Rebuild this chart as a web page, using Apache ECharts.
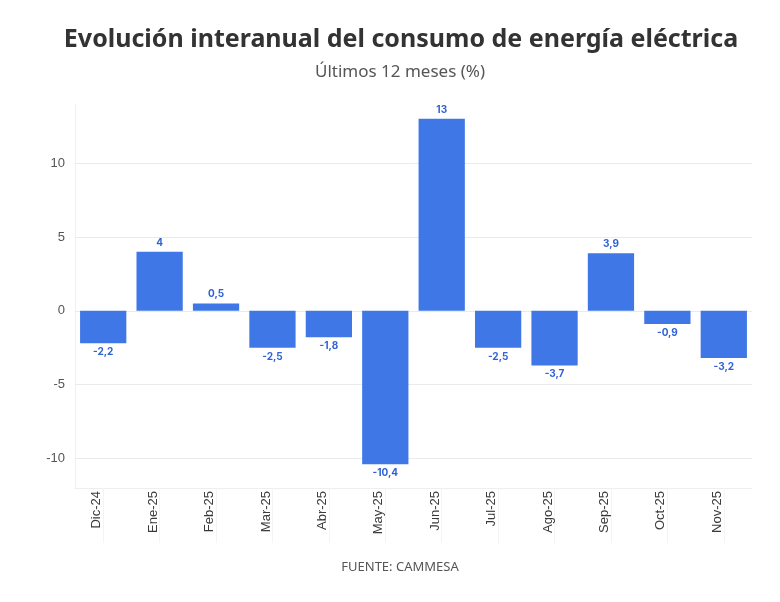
<!DOCTYPE html>
<html>
<head>
<meta charset="utf-8">
<script src="https://cdn.jsdelivr.net/npm/echarts@6/dist/echarts.min.js"></script>
<style>
  html,body{margin:0;padding:0;background:#fff;}
  #chart{width:780px;height:602px;}
</style>
</head>
<body>
<div id="chart"></div>
<script>
// datos
const meses = ['Dic-24','Ene-25','Feb-25','Mar-25','Abr-25','May-25','Jun-25','Jul-25','Ago-25','Sep-25','Oct-25','Nov-25'];
const variacion = [-2.2, 4, 0.5, -2.5, -1.8, -10.4, 13, -2.5, -3.7, 3.9, -0.9, -3.2];
const ticksY = [10, 5, 0, -5, -10];

const chart = echarts.init(document.getElementById('chart'));

const option = {
    backgroundColor: '#fff',
    title: [{
        text: 'Evolución interanual del consumo de energía eléctrica',
        left: 396,
        textAlign: 'center',
        top: 22,
        textStyle: {fontFamily: 'Noto Sans', fontSize: 25, fontWeight: 'bold', color: '#333'}
    }, {
        text: 'Últimos 12 meses (%)',
        left: 395,
        textAlign: 'center',
        top: 59,
        textStyle: {fontFamily: 'Noto Sans', fontSize: 17, fontWeight: 'normal', color: '#555'}
    }, {
        text: 'FUENTE: CAMMESA',
        left: 395,
        textAlign: 'center',
        top: 556,
        textStyle: {fontFamily: 'Noto Sans', fontSize: 13, fontWeight: 'normal', color: '#555'}
    }],
    grid: {left: 75, right: 28, top: 104, bottom: 114},
    xAxis: {
        type: 'category',
        data: meses,
        axisLine: {onZero: false, lineStyle: {color: '#eeeeee'}},
        axisTick: {show: true, alignWithLabel: true, length: 55, lineStyle: {color: '#f4f4f4'}},
        axisLabel: {
            rotate: 90,
            fontFamily: 'Liberation Sans',
            fontSize: 13,
            color: '#3a3a3a',
            margin: 3,
            verticalAlign: 'bottom'
        },
        splitLine: {show: false}
    },
    yAxis: {
        type: 'value',
        min: -12,
        max: 14,
        interval: 1,
        axisLine: {show: true, lineStyle: {color: '#f0f0f0'}},
        axisTick: {show: false},
        splitLine: {show: false},
        axisLabel: {
            fontFamily: 'Liberation Sans',
            fontSize: 13,
            color: '#555',
            margin: 10,
            formatter: v => (ticksY.includes(v) ? String(v) : '')
        }
    },
    series: [{
        // lineas de grilla detras de las barras
        type: 'line',
        data: [],
        z: 1,
        silent: true,
        markLine: {
            z: 1,
            symbol: 'none',
            silent: true,
            label: {show: false},
            lineStyle: {color: '#eaeaea', type: 'solid', width: 1},
            data: ticksY.map(v => ({yAxis: v}))
        }
    }, {
        type: 'bar',
        z: 3,
        barCategoryGap: '18%',
        itemStyle: {color: '#3f77e6'},
        label: {
            show: true,
            distance: 4,
            fontFamily: 'Inter',
            fontSize: 10,
            fontWeight: 'bold',
            color: '#2f62d6',
            formatter: p => String(p.value).replace('.', ',')
        },
        // etiquetas abajo para valores negativos
        data: variacion.map(v => ({
            value: v,
            label: {position: v < 0 ? 'bottom' : 'top'}
        }))
    }]
};

chart.setOption(option);
</script>
</body>
</html>
